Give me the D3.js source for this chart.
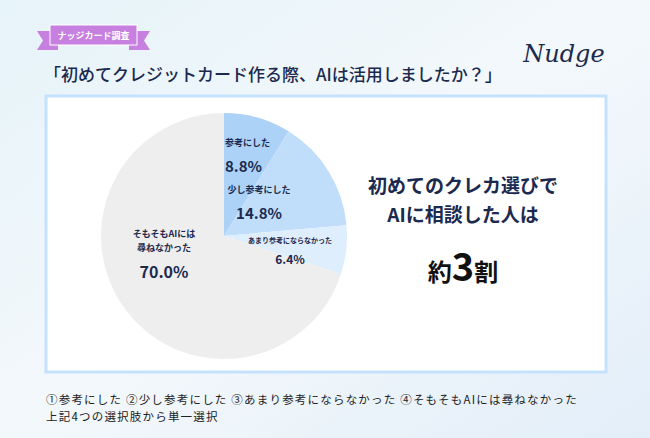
<!DOCTYPE html><html><head><meta charset="utf-8"><script src="https://cdn.jsdelivr.net/npm/d3@7"></script>
<style>body{margin:0}svg{display:block;font-family:"Noto Sans CJK JP",sans-serif}</style></head><body><svg width="650" height="438"></svg>
<script>
const categories=["参考にした","少し参考にした","あまり参考にならなかった","そもそもAIには尋ねなかった"];
const values=[8.8,14.8,6.4,70.0];
const colors=["#acd2f8","#c0defa","#dfeefd","#eeeeee"];
const svg=d3.select("svg");
const defs=svg.append("defs");
const g=defs.append("linearGradient").attr("id","bg").attr("x1",0).attr("y1",0).attr("x2",1).attr("y2",1);
g.append("stop").attr("offset",0).attr("stop-color","#e6f3f9");
g.append("stop").attr("offset",0.5).attr("stop-color","#f3f8fb");
g.append("stop").attr("offset",1).attr("stop-color","#e3eef9");
svg.append("rect").attr("width",650).attr("height",438).attr("fill","url(#bg)");
const navy="#1b2a4e";
svg.append("path").attr("d","M37,31 L58,31 L58,50 L37,50 L43,40.5 Z").attr("fill","#c77fe0");
svg.append("path").attr("d","M150,31 L129,31 L129,50 L150,50 L144,40.5 Z").attr("fill","#c77fe0");
svg.append("rect").attr("x",50).attr("y",25).attr("width",87).attr("height",20).attr("fill","#c77fe0").attr("stroke","#fff").attr("stroke-width",1);
svg.append("text").attr("x",93.5).attr("y",39).attr("text-anchor","middle").attr("fill","#fff").attr("font-size",9).attr("font-weight",700).text("ナッジカード調査");
svg.append("text").attr("x",44).attr("y",81).attr("fill",navy).attr("font-size",17).attr("font-weight",500).text("「初めてクレジットカード作る際、AIは活用しましたか？」");
svg.append("text").attr("x",564).attr("y",62).attr("text-anchor","middle").attr("fill",navy).attr("font-size",24).attr("font-style","italic").attr("font-family","DejaVu Serif").text("Nudge");
svg.append("rect").attr("x",46).attr("y",96).attr("width",560).attr("height",276).attr("fill","#fff").attr("stroke","#c6e1fb").attr("stroke-width",3);
const cx=224,cy=236,r=123;
const pie=d3.pie().sort(null).value(d=>d)(values);
const arc=d3.arc().innerRadius(0).outerRadius(r);
const pg=svg.append("g").attr("transform",`translate(${cx},${cy})`);
pg.selectAll("path").data(pie).join("path").attr("d",arc).attr("fill",(d,i)=>colors[i]);
const labs=[{x:1,y:146,a:"start",l:[categories[0]],p:"8.8%",fs:9,ps:15},{x:259,y:193,a:"middle",l:[categories[1]],p:"14.8%",fs:9,ps:15},{x:290,y:243,a:"middle",l:[categories[2]],p:"6.4%",fs:7,ps:12},{x:164,y:237,a:"middle",l:["そもそもAIには","尋ねなかった"],p:"70.0%",fs:9,ps:16}];
labs.forEach((o,i)=>{const x=o.a==="start"?cx+o.x:o.x;let y=o.y;
 o.l.forEach(t=>{svg.append("text").attr("x",x).attr("y",y).attr("text-anchor",o.a).attr("fill",navy).attr("font-size",o.fs).attr("font-weight",700).text(t);y+=o.fs+5;});
 svg.append("text").attr("x",x).attr("y",y+o.ps-3).attr("text-anchor",o.a).attr("fill",navy).attr("font-size",o.ps).attr("font-weight",700).text(o.p);});
svg.append("text").attr("x",463).attr("y",193).attr("text-anchor","middle").attr("fill",navy).attr("font-size",19).attr("font-weight",700).text("初めてのクレカ選びで");
svg.append("text").attr("x",463).attr("y",222).attr("text-anchor","middle").attr("fill",navy).attr("font-size",19).attr("font-weight",700).text("AIに相談した人は");
const t=svg.append("text").attr("x",463).attr("y",281).attr("text-anchor","middle").attr("fill","#111").attr("font-weight",700);
t.append("tspan").attr("font-size",24).text("約");t.append("tspan").attr("font-size",38).text("3");t.append("tspan").attr("font-size",24).text("割");
svg.append("text").attr("x",46).attr("y",404).attr("fill","#222").attr("font-size",11.5).attr("letter-spacing",1.2).text("①参考にした ②少し参考にした ③あまり参考にならなかった ④そもそもAIには尋ねなかった");
svg.append("text").attr("x",46).attr("y",421).attr("fill","#222").attr("font-size",11.5).attr("letter-spacing",1.2).text("上記4つの選択肢から単一選択");
</script></body></html>
